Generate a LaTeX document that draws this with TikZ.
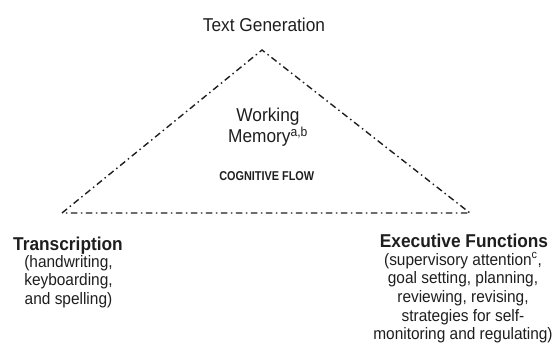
\documentclass[tikz,border=0pt]{standalone}
\usepackage{fontspec}
\setmainfont[FakeStretch=0.93]{Liberation Sans}
\newfontfamily\narrowfont[FakeStretch=0.85]{Liberation Sans}
\definecolor{ink}{HTML}{1E1E1E}
\begin{document}
\begin{tikzpicture}[x=1pt,y=-1pt,
  every node/.style={inner sep=0pt,outer sep=0pt,text=ink},
  title/.style={font=\fontsize{18.6}{19}\selectfont\bfseries,anchor=base},
  plain/.style={font=\fontsize{18.6}{21}\selectfont,anchor=base,align=center},
  desc/.style={font=\fontsize{16.6}{18.7}\selectfont,anchor=base,align=center},
  flowline/.style={draw=ink,line width=1.4pt,dash pattern=on 6.5pt off 3.5pt on 1.5pt off 3.5pt}]
\useasboundingbox (0,0) rectangle (553,363);
\coordinate (apex) at (262,50);
\coordinate (bl) at (62,213);
\coordinate (br) at (470,213);
\draw[flowline] (bl) -- (apex) -- (br) -- cycle;
\node[plain] (tg) at (264,32) {Text Generation};
% base anchor of a multi-line node = baseline of its last line
\node[plain] (wm) at (268,143) {Working\\Memory\textsuperscript{a,b}};
\node[anchor=base,font=\fontsize{12.8}{14}\narrowfont\bfseries] (cf) at (266.7,181) {COGNITIVE FLOW};
\node[title] (tr) at (68,250) {Transcription};
\node[desc] (trd) at (68.5,304.5) {(handwriting,\\keyboarding,\\and spelling)};
\node[title] (ef) at (464,247) {Executive Functions};
\node[desc] (efd) at (463,339.8) {(supervisory attention\textsuperscript{c},\\goal setting, planning,\\reviewing, revising,\\strategies for self-\\monitoring and regulating)};
\end{tikzpicture}
\end{document}
